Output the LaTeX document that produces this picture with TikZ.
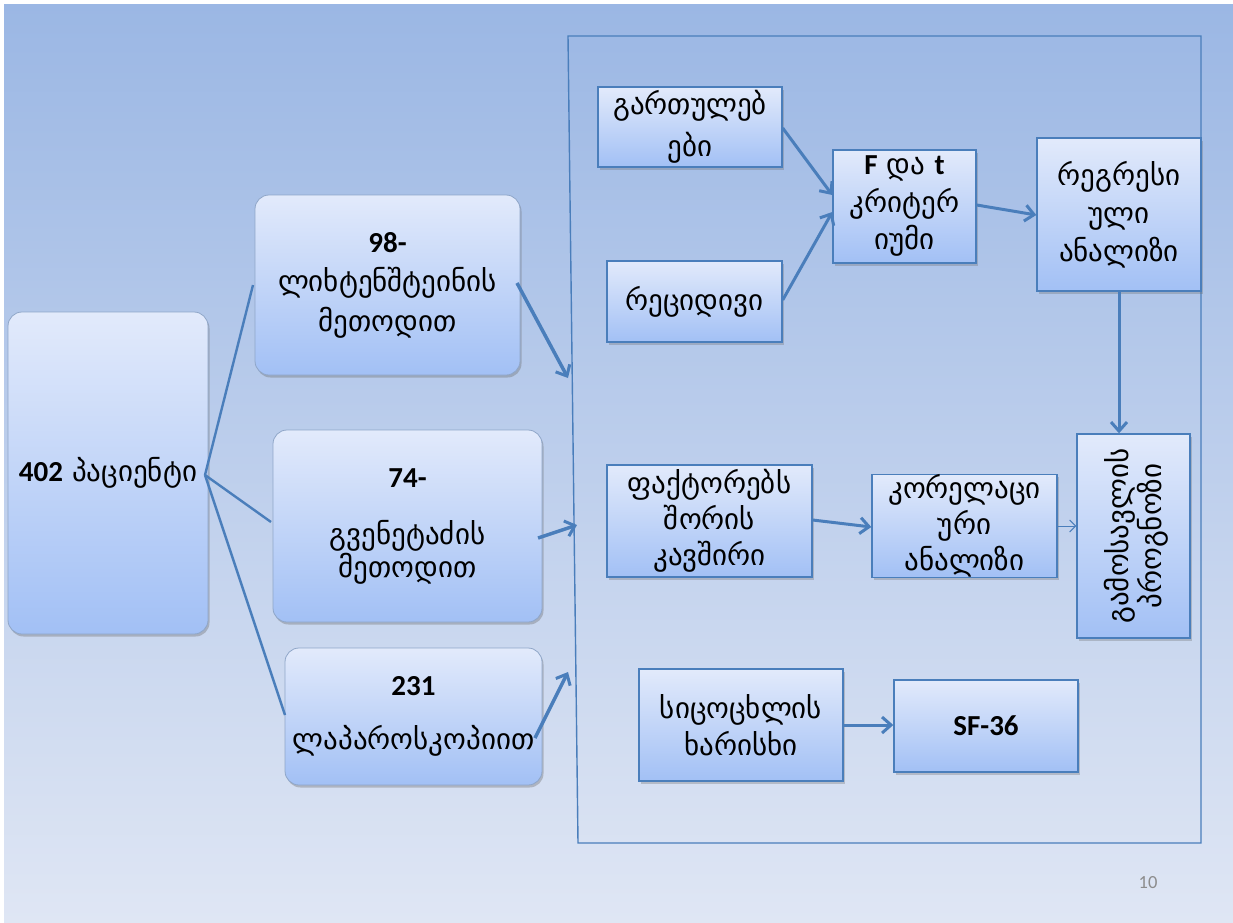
\documentclass[tikz,border=0pt]{standalone}
\usepackage{fontspec}
\setmainfont{Carlito}
\newfontfamily\geo{DejaVu Sans}
\usetikzlibrary{arrows.meta,shadows}
\definecolor{bgtop}{HTML}{9BB7E4}
\definecolor{bgbot}{HTML}{DFE6F4}
\definecolor{bline}{HTML}{4A7EBB}
\definecolor{btop}{HTML}{E2EAFB}
\definecolor{bbot}{HTML}{A2C0F5}
\definecolor{rbord}{HTML}{8FA6C8}
\tikzset{
  rbox/.style={rectangle, rounded corners=14pt, top color=btop, bottom color=bbot,
    draw=rbord, line width=0.8pt, align=center, inner sep=0pt,
    drop shadow={shadow xshift=1.5pt, shadow yshift=-2.5pt, opacity=0.35, fill=black!60}},
  sbox/.style={rectangle, top color=btop, bottom color=bbot, draw=bline,
    line width=1.4pt, align=center, inner sep=0pt,
    drop shadow={shadow xshift=2pt, shadow yshift=-2.5pt, opacity=0.3, fill=black!60}},
  gtxt/.style={font=\geo\fontsize{29}{37}\selectfont},
  link/.style={draw=bline, line width=2.4pt},
  bigarrow/.style={draw=bline, line width=3.5pt, -{Straight Barb[length=9pt,width=16pt,line width=3pt]}},
  thinarrow/.style={draw=bline, line width=1pt, -{Straight Barb[length=6pt,width=12pt,line width=1pt]}},
}
\newcommand{\bnum}[1]{{\fontspec{Carlito}\bfseries #1}}
\begin{document}
\begin{tikzpicture}[x=1pt,y=-1pt]
\useasboundingbox (0,0) rectangle (1233,922);
\fill[white] (0,0) rectangle (1233,922);
\shade[top color=bgtop, bottom color=bgbot] (4,4) rectangle (1233,922);
% big frame
\draw[bline, line width=1.4pt] (568,36) -- (1201,36) -- (1201,843) -- (578,843) -- cycle;
% left rounded boxes
\node[rbox, gtxt, minimum width=200pt, minimum height=322pt] (p402) at (108,473)
  {\bnum{402} პაციენტი};
\node[rbox, gtxt, minimum width=265pt, minimum height=180pt] (b98) at (387.5,285)
  {\bnum{98-}\\[2pt]ლიხტენშტეინის\\[3pt]მეთოდით};
\node[rbox, gtxt, minimum width=269pt, minimum height=192pt] (b74) at (407.5,526)
  {\bnum{74-}\\[20pt]გვენეტაძის\\[-4pt]მეთოდით};
\node[rbox, gtxt, minimum width=257pt, minimum height=137pt] (b231) at (413.5,716.5)
  {\bnum{231}\\[17pt]ლაპაროსკოპიით};
% connectors from 402
\coordinate (src) at (205,475);
\draw[link] (src) -- (253,285);
\draw[link] (src) -- (271,522);
\draw[link] (src) -- (285,715);
% arrows into frame
\coordinate (t98) at (568,378);
\coordinate (t74) at (577,525);
\coordinate (t231) at (568,672);
\draw[bigarrow] (517,283) -- (t98);
\draw[bigarrow] (538,538) -- (t74);
\draw[bigarrow] (535,738) -- (t231);
% square boxes
\node[sbox, gtxt, minimum width=184pt, minimum height=80pt] (gart) at (690,127)
  {გართულებ\\[5pt]ები};
\node[sbox, gtxt, minimum width=175pt, minimum height=81pt] (recid) at (694.5,301.5)
  {რეციდივი};
\node[sbox, gtxt, minimum width=143pt, minimum height=113pt] (ft) at (904.5,206.5)
  {\bnum{F} და \bnum{t}\\[1pt]კრიტერ\\იუმი};
\node[sbox, gtxt, minimum width=164pt, minimum height=153pt] (regr) at (1119,214.5)
  {რეგრესი\\[1pt]ული\\[1pt]ანალიზი};
\node[sbox, gtxt, minimum width=205pt, minimum height=112pt] (fakt) at (709.5,521)
  {ფაქტორებს\\[-1pt]შორის\\[-1pt]კავშირი};
\node[sbox, gtxt, minimum width=185pt, minimum height=102pt] (korel) at (964.5,526)
  {კორელაცი\\[-1pt]ური\\[-1pt]ანალიზი};
\node[sbox, minimum width=113pt, minimum height=204pt] (gamo) at (1133.5,536) {};
\node[gtxt, rotate=90, align=center] (gamotxt) at ([xshift=3pt]gamo.center) {გამოსავლის\\[-4pt]პროგნოზი};
\node[sbox, gtxt, minimum width=204pt, minimum height=112pt] (sicoc) at (741,725)
  {სიცოცხლის\\ხარისხი};
\node[sbox, minimum width=184pt, minimum height=92pt, font=\fontsize{29}{34}\selectfont\bfseries] (sf) at (986,726)
  {SF-36};
% internal arrows
\draw[bigarrow, line width=3pt] (gart.east |- 0,128) -- (ft.west |- 0,195);
\draw[bigarrow, line width=3pt] (recid.east |- 0,300) -- (ft.west |- 0,212);
\draw[bigarrow, line width=3pt] (ft.east |- 0,205) -- (regr.west |- 0,215);
\draw[bigarrow, line width=3pt] (regr.south) -- (gamo.north -| regr.south);
\draw[bigarrow, line width=3pt] (fakt.east |- 0,520) -- (korel.west |- 0,527);
\draw[thinarrow] (korel.east) -- (gamo.west |- korel.east);
\draw[bigarrow, line width=3pt] (sicoc.east) -- (sf.west |- sicoc.east);
% page number
\node[text=black!45, font=\fontsize{18.5}{20}\selectfont] (pg) at (1148,883) {10};
\end{tikzpicture}
\end{document}
